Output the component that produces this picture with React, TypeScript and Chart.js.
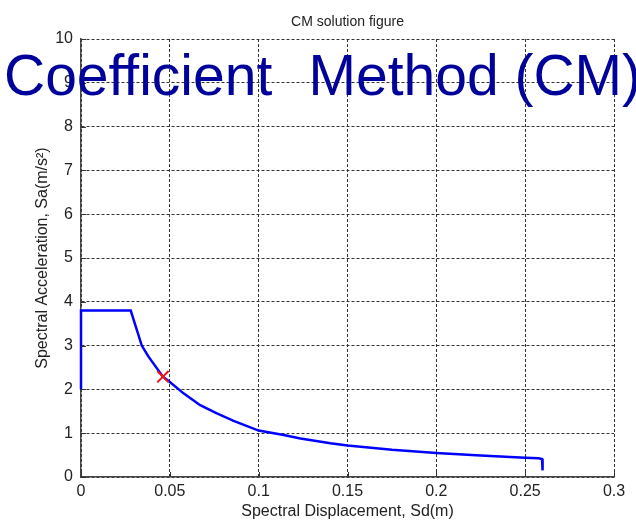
import React, { useEffect, useRef } from "react";
import { Chart, registerables } from "chart.js";

Chart.register(...registerables);

// Capacity curve (Spectral displacement [m] vs spectral acceleration [m/s^2])
const sdValues = [0, 0, 0.028, 0.0342, 0.0378, 0.0461, 0.05, 0.0577, 0.0671, 0.0765, 0.0859, 0.1, 0.1141, 0.1235, 0.1404, 0.15, 0.175, 0.2, 0.225, 0.25, 0.2575, 0.2595, 0.2598];
const saValues = [2.0, 3.8, 3.8, 3.0, 2.76, 2.29, 2.17, 1.91, 1.64, 1.45, 1.28, 1.06, 0.96, 0.88, 0.77, 0.72, 0.62, 0.55, 0.49, 0.44, 0.43, 0.41, 0.15];

// Performance point (red cross)
const perfSd = [0.0461];
const perfSa = [2.29];

const xTickLabels = ["0", "0.05", "0.1", "0.15", "0.2", "0.25", "0.3"];
const yTickLabels = ["0", "1", "2", "3", "4", "5", "6", "7", "8", "9", "10"];

const chartTitle = "CM solution figure";
const xAxisTitle = "Spectral Displacement, Sd(m)";
const yAxisTitle = "Spectral Acceleration, Sa(m/s\u00B2)";
const overlayLeft = "Coefficient";
const overlayRight = "Method (CM)";

const FONT = "'Liberation Sans', Arial, Helvetica, sans-serif";

const innerTicks = {
  id: "innerTicks",
  afterDatasetsDraw(chart: any) {
    const { ctx, chartArea, scales } = chart;
    ctx.save();
    ctx.strokeStyle = "#333";
    ctx.lineWidth = 1;
    ctx.beginPath();
    scales.x.ticks.forEach((t: any) => {
      const px = Math.round(scales.x.getPixelForValue(t.value)) + 0.5;
      ctx.moveTo(px, chartArea.bottom);
      ctx.lineTo(px, chartArea.bottom - 5);
    });
    scales.y.ticks.forEach((t: any) => {
      const py = Math.round(scales.y.getPixelForValue(t.value)) + 0.5;
      ctx.moveTo(chartArea.left, py);
      ctx.lineTo(chartArea.left + 5, py);
    });
    ctx.stroke();
    ctx.restore();
  },
};

export default function App() {
  const canvasRef = useRef<HTMLCanvasElement | null>(null);

  useEffect(() => {
    if (!canvasRef.current) return;
    const curve = sdValues.map((x, i) => ({ x, y: saValues[i] }));
    const perf = perfSd.map((x, i) => ({ x, y: perfSa[i] }));
    const chart = new Chart(canvasRef.current, {
      type: "scatter",
      data: {
        datasets: [
          {
            label: "capacity",
            data: curve,
            showLine: true,
            borderColor: "rgb(0,0,255)",
            borderWidth: 2.5,
            pointRadius: 0,
            tension: 0,
            clip: false,
            order: 1,
          } as any,
          {
            label: "performance point",
            data: perf,
            showLine: false,
            pointStyle: "crossRot",
            pointRadius: 8,
            borderColor: "rgb(240,20,20)",
            backgroundColor: "rgb(240,20,20)",
            pointBorderWidth: 2,
            clip: false,
            order: 0,
          } as any,
        ],
      },
      options: {
        animation: false,
        responsive: false,
        devicePixelRatio: 1,
        layout: { padding: { left: 0, right: 22, top: 0, bottom: 0 } },
        plugins: {
          legend: { display: false },
          tooltip: { enabled: false },
          title: {
            display: true,
            text: chartTitle,
            fullSize: false,
            color: "#222",
            font: { family: FONT, size: 14, weight: "normal" },
            padding: { top: 13.5, bottom: 8.7 },
          },
        },
        scales: {
          x: {
            type: "linear",
            min: 0,
            max: 0.3,
            afterFit: (s: any) => {
              s.height = 46;
            },
            ticks: {
              stepSize: 0.05,
              padding: 5,
              color: "#222",
              font: { family: FONT, size: 16 },
              maxRotation: 0,
              callback: (_v: any, i: number) => xTickLabels[i],
            },
            grid: { color: "#333", lineWidth: 1, drawTicks: false },
            border: { display: true, color: "#444", width: 1.5, dash: [3, 2] },
            title: {
              display: true,
              text: xAxisTitle,
              color: "#222",
              font: { family: FONT, size: 16 },
              padding: { top: 0, bottom: 1.4 },
            },
          },
          y: {
            type: "linear",
            min: 0,
            max: 10,
            afterFit: (s: any) => {
              s.width = 81;
            },
            ticks: {
              stepSize: 1,
              padding: 8,
              color: "#222",
              font: { family: FONT, size: 16 },
              callback: (_v: any, i: number) => yTickLabels[i],
            },
            grid: { color: "#333", lineWidth: 1, drawTicks: false },
            border: { display: true, color: "#444", width: 1.5, dash: [3, 2] },
            title: {
              display: true,
              text: yAxisTitle,
              color: "#222",
              font: { family: FONT, size: 16 },
              padding: { top: 33.4, bottom: 0 },
            },
          },
        },
      },
      plugins: [innerTicks],
    } as any);
    return () => chart.destroy();
  }, []);

  const overlayStyle: React.CSSProperties = {
    position: "absolute",
    top: 47,
    fontFamily: FONT,
    fontSize: 57,
    lineHeight: 1,
    color: "rgb(0,0,155)",
    whiteSpace: "pre",
  };

  return (
    <div
      style={{
        position: "fixed",
        left: 0,
        top: 0,
        width: 636,
        height: 523,
        overflow: "hidden",
        background: "#fff",
      }}
    >
      <canvas ref={canvasRef} width={636} height={523} style={{ display: "block" }} />
      <span style={{ ...overlayStyle, left: 4 }}>{overlayLeft}</span>
      <span style={{ ...overlayStyle, left: 308.5 }}>{overlayRight}</span>
    </div>
  );
}
